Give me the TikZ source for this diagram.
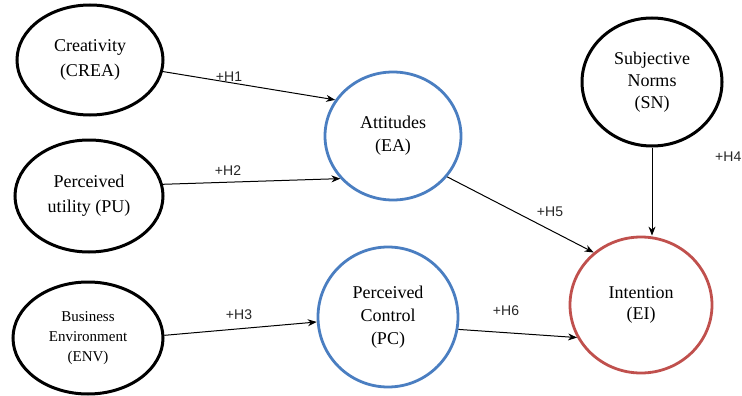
\documentclass[tikz,border=0pt]{standalone}
\usepackage{fontspec}
\setmainfont{Liberation Serif}
\newfontfamily\labfont{Liberation Sans}
\usetikzlibrary{shapes.geometric,arrows.meta}
\definecolor{cblue}{RGB}{74,126,193}
\definecolor{cred}{RGB}{192,80,77}
\begin{document}
\begin{tikzpicture}[x=1pt,y=-1pt,
  blackell/.style={ellipse,draw=black,line width=3pt,inner sep=0pt,align=center,
    font=\fontsize{18}{25}\selectfont},
  blueell/.style={ellipse,draw=cblue,line width=2.8pt,inner sep=0pt,align=center,
    font=\fontsize{18}{23}\selectfont},
  redell/.style={ellipse,draw=cred,line width=2.8pt,inner sep=0pt,align=center,
    font=\fontsize{18}{21}\selectfont},
  conn/.style={draw=black,line width=1pt,-{Stealth[length=9pt,width=7pt]}},
  hlab/.style={font=\labfont\fontsize{14}{16}\selectfont,inner sep=0pt,text=black!85}
]
\useasboundingbox[fill=white] (0,0) rectangle (742,396);
\node[blackell,minimum width=146pt,minimum height=110pt] (crea) at (90,60) {Creativity\\(CREA)};
\node[blackell,minimum width=148pt,minimum height=112pt] (pu) at (89,196) {Perceived\\utility (PU)};
\node[blackell,minimum width=150pt,minimum height=112pt,font=\fontsize{15}{20}\selectfont] (env) at (88,338) {Business\\Environment\\(ENV)};
\node[blueell,minimum width=136pt,minimum height=128pt] (att) at (393,136) {Attitudes\\(EA)};
\node[blueell,minimum width=140pt,minimum height=140pt] (pc) at (388,317) {Perceived\\Control\\(PC)};
\node[blackell,minimum width=140pt,minimum height=128pt,font=\fontsize{18}{22}\selectfont] (sn) at (652,82) {Subjective\\Norms\\(SN)};
\node[redell,minimum width=142pt,minimum height=136pt] (ei) at (641,305) {Intention\\(EI)};

\draw[conn] (crea.-9) -- (att.148);
\draw[conn] (pu.9) -- (att.-141);
\draw[conn] (env.2) -- (pc.184);
\draw[conn] (att.-37) -- (ei.132);
\draw[conn] (pc.-10) -- (ei.-153);
\draw[conn] (sn.south) -- (sn.south |- ei.north);

\node[hlab] (h1) at (229,77) {+H1};
\node[hlab] (h2) at (228,171) {+H2};
\node[hlab] (h3) at (239,315) {+H3};
\node[hlab] (h5) at (550,212) {+H5};
\node[hlab] (h6) at (506,311) {+H6};
\node[hlab,anchor=east] (h4) at (741.5,157) {+H4};
\end{tikzpicture}
\end{document}
